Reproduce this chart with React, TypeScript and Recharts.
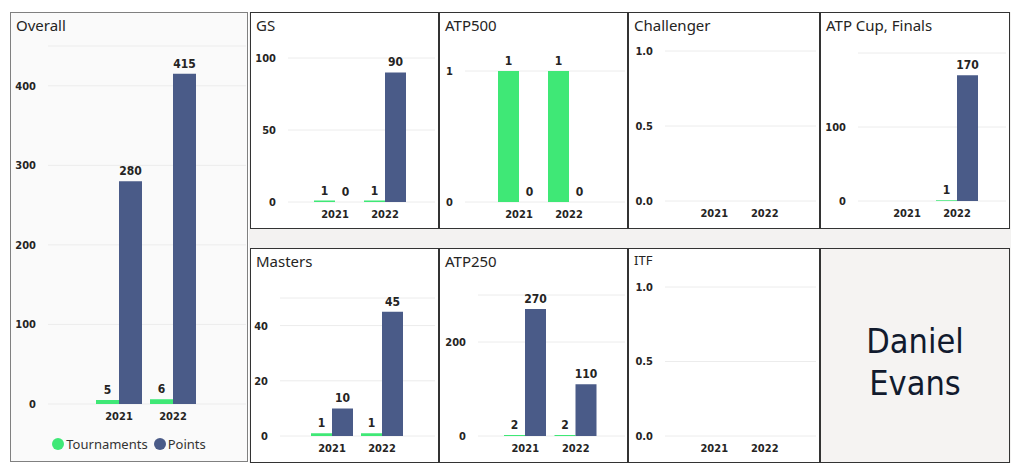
import React from 'react';
import { BarChart, Bar, XAxis, YAxis, CartesianGrid, LabelList, Legend } from 'recharts';

const years = ['2021', '2022'];

const overallTournaments = [5, 6];
const overallPoints = [280, 415];
const gsTournaments = [1, 1];
const gsPoints = [0, 90];
const atp500Tournaments = [1, 1];
const atp500Points = [0, 0];
const challengerTournaments: (number | null)[] = [null, null];
const challengerPoints: (number | null)[] = [null, null];
const atpCupTournaments: (number | null)[] = [null, 1];
const atpCupPoints: (number | null)[] = [null, 170];
const mastersTournaments = [1, 1];
const mastersPoints = [10, 45];
const atp250Tournaments = [2, 2];
const atp250Points = [270, 110];
const itfTournaments: (number | null)[] = [null, null];
const itfPoints: (number | null)[] = [null, null];

const GREEN = '#3fe876';
const NAVY = '#4a5b88';
const TEXT = '#252423';
const NUM_FONT = '"DejaVu Sans Condensed", "DejaVu Sans", sans-serif';
const TITLE_FONT = '"Noto Sans", "Open Sans", sans-serif';

const toRows = (t: (number | null)[], p: (number | null)[]) =>
  years.map((year, i) => ({ year, Tournaments: t[i], Points: p[i] }));

type Box = { x: number; y: number; w: number; h: number };
type Plot = { left: number; right: number; top: number; bottom: number };

interface PanelProps {
  title: string;
  titleSize?: number;
  box: Box;
  plot: Plot;
  domain: [number, number];
  ticks: number[];
  fmt?: (v: number) => string;
  padL: number;
  padR: number;
  barSize: number;
  data: any[];
  legend?: boolean;
  bg?: string;
  border?: string;
}

const X_AXIS_H = 24;
const LEGEND_H = 20;

const LegendContent = () => (
  <div style={{ display: 'flex', justifyContent: 'center', alignItems: 'center', height: LEGEND_H, fontFamily: TITLE_FONT, fontSize: 13, color: '#333' }}>
    <span style={{ width: 12, height: 12, borderRadius: 6, background: GREEN, display: 'inline-block', marginRight: 2 }} />
    <span style={{ marginRight: 6 }}>Tournaments</span>
    <span style={{ width: 12, height: 12, borderRadius: 6, background: NAVY, display: 'inline-block', marginRight: 2 }} />
    <span>Points</span>
  </div>
);

// hide labels for missing values, keep real zeros
const hideNull = (v: any) => (v === null || v === undefined ? '' : v);

const Panel: React.FC<PanelProps> = ({ title, titleSize = 15, box, plot, domain, ticks, fmt, padL, padR, barSize, data, legend, bg = '#fff', border = '1.5px solid #333' }) => {
  const legendSpace = legend ? LEGEND_H : 0;
  const margin = {
    top: plot.top - box.y,
    left: 0,
    right: box.x + box.w - plot.right,
    bottom: box.y + box.h - plot.bottom - X_AXIS_H - legendSpace,
  };
  const labelStyle = { fontFamily: NUM_FONT, fontSize: 12, fontWeight: 700, fill: TEXT };
  return (
    <>
      <div
        style={{
          position: 'absolute', left: box.x, top: box.y, width: box.w, height: box.h,
          boxSizing: 'border-box', border, background: bg,
        }}
      >
        <div style={{ position: 'absolute', left: 5, top: 2, fontFamily: TITLE_FONT, fontSize: titleSize, color: TEXT }}>{title}</div>
      </div>
      <div style={{ position: 'absolute', left: box.x, top: box.y }}>
        <BarChart width={box.w} height={box.h} data={data} margin={margin} barGap={0}>
          <CartesianGrid vertical={false} stroke="#ececec" />
          <XAxis
            dataKey="year"
            height={X_AXIS_H}
            axisLine={false}
            tickLine={false}
            tickSize={0}
            tickMargin={8}
            interval={0}
            padding={{ left: padL, right: padR }}
            tick={{ fontFamily: NUM_FONT, fontSize: 11, fontWeight: 700, fill: TEXT }}
          />
          <YAxis
            width={plot.left - box.x}
            domain={domain}
            ticks={ticks}
            allowDataOverflow
            axisLine={false}
            tickLine={false}
            tickSize={0}
            tickMargin={12}
            tickFormatter={fmt}
            tick={{ fontFamily: NUM_FONT, fontSize: 11, fontWeight: 700, fill: TEXT }}
          />
          {legend && <Legend verticalAlign="bottom" content={LegendContent} wrapperStyle={{ left: 0, width: box.w, bottom: 8 }} />}
          <Bar dataKey="Tournaments" fill={GREEN} barSize={barSize} minPointSize={0.01} isAnimationActive={false}>
            <LabelList dataKey="Tournaments" position="top" offset={6} formatter={hideNull} style={labelStyle} />
          </Bar>
          <Bar dataKey="Points" fill={NAVY} barSize={barSize} minPointSize={0.01} isAnimationActive={false}>
            <LabelList dataKey="Points" position="top" offset={6} formatter={hideNull} style={labelStyle} />
          </Bar>
        </BarChart>
      </div>
    </>
  );
};

const oneDec = (v: number) => v.toFixed(1);

export default function App() {
  return (
    <div style={{ position: 'absolute', left: 0, top: 0, width: 1024, height: 474, background: '#fff', overflow: 'hidden' }}>
      <div style={{ position: 'absolute', left: 249, top: 12, width: 762, height: 451, background: '#f3f2f1' }} />
      <Panel
        title="Overall" box={{ x: 10, y: 12, w: 238, h: 450 }}
        plot={{ left: 48, right: 246, top: 46, bottom: 404 }}
        domain={[0, 450]} ticks={[0, 100, 200, 300, 400]}
        padL={44} padR={46} barSize={23}
        data={toRows(overallTournaments, overallPoints)} legend
        bg="#fafafa" border="1px solid #808080"
      />
      <Panel
        title="GS" box={{ x: 250, y: 12, w: 189, h: 217 }}
        plot={{ left: 288, right: 435, top: 58, bottom: 202 }}
        domain={[0, 100]} ticks={[0, 50, 100]}
        padL={22} padR={25} barSize={21}
        data={toRows(gsTournaments, gsPoints)}
      />
      <Panel
        title="ATP500" box={{ x: 439, y: 12, w: 189, h: 217 }}
        plot={{ left: 465, right: 625, top: 71, bottom: 202 }}
        domain={[0, 1]} ticks={[0, 1]}
        padL={29} padR={31} barSize={21}
        data={toRows(atp500Tournaments, atp500Points)}
      />
      <Panel
        title="Challenger" box={{ x: 628, y: 12, w: 192, h: 217 }}
        plot={{ left: 665, right: 816, top: 51, bottom: 201 }}
        domain={[0, 1]} ticks={[0, 0.5, 1]} fmt={oneDec}
        padL={24} padR={26} barSize={21}
        data={toRows(challengerTournaments, challengerPoints)}
      />
      <Panel
        title="ATP Cup, Finals" box={{ x: 820, y: 12, w: 190, h: 217 }}
        plot={{ left: 858, right: 1006, top: 53, bottom: 201 }}
        domain={[0, 200]} ticks={[0, 100]}
        padL={24} padR={24} barSize={21}
        data={toRows(atpCupTournaments, atpCupPoints)}
      />
      <Panel
        title="Masters" box={{ x: 250, y: 248, w: 189, h: 215 }}
        plot={{ left: 280, right: 435, top: 298, bottom: 436 }}
        domain={[0, 50]} ticks={[0, 20, 40]}
        padL={27} padR={28} barSize={21}
        data={toRows(mastersTournaments, mastersPoints)}
      />
      <Panel
        title="ATP250" box={{ x: 439, y: 248, w: 189, h: 215 }}
        plot={{ left: 478, right: 625, top: 295, bottom: 436 }}
        domain={[0, 300]} ticks={[0, 200]}
        padL={22} padR={24} barSize={21}
        data={toRows(atp250Tournaments, atp250Points)}
      />
      <Panel
        title="ITF" titleSize={13} box={{ x: 628, y: 248, w: 192, h: 215 }}
        plot={{ left: 665, right: 816, top: 287, bottom: 436 }}
        domain={[0, 1]} ticks={[0, 0.5, 1]} fmt={oneDec}
        padL={24} padR={26} barSize={21}
        data={toRows(itfTournaments, itfPoints)}
      />
      <div
        style={{
          position: 'absolute', left: 820, top: 248, width: 190, height: 215, boxSizing: 'border-box',
          border: '1.5px solid #333', background: '#f5f3f2', display: 'flex', flexDirection: 'column',
          justifyContent: 'center', alignItems: 'center', fontFamily: NUM_FONT, fontSize: 34,
          color: '#111a2e', lineHeight: '42px', paddingTop: 12,
        }}
      >
        <div>Daniel</div>
        <div>Evans</div>
      </div>
    </div>
  );
}
